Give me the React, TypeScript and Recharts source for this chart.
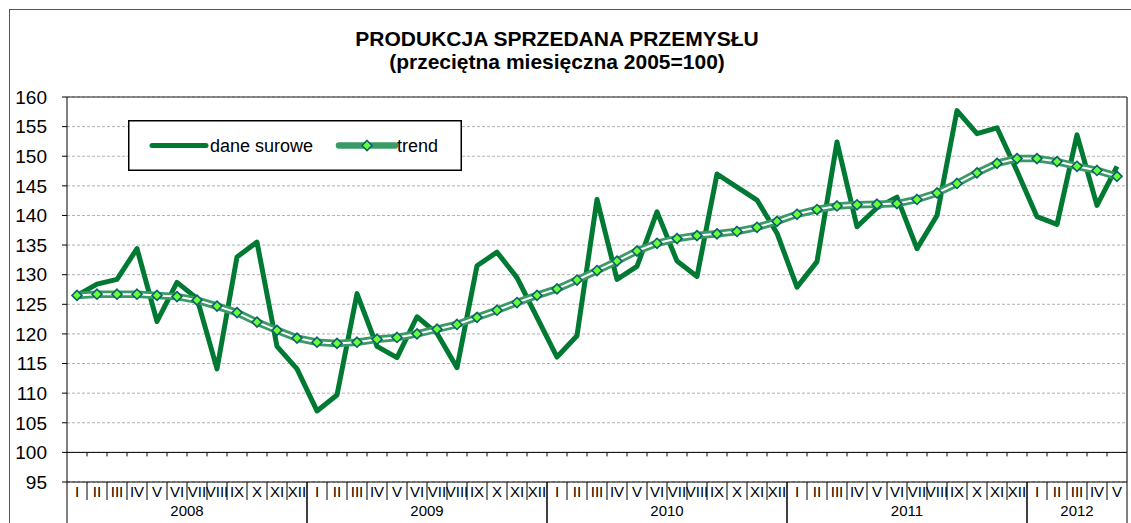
import React from 'react';
import {
  LineChart,
  Line,
  XAxis,
  YAxis,
  CartesianGrid,
  ReferenceLine,
  Legend,
} from 'recharts';

const monthLabels = ['I', 'II', 'III', 'IV', 'V', 'VI', 'VII', 'VIII', 'IX', 'X', 'XI', 'XII'];
const yearList = [2008, 2009, 2010, 2011, 2012];
const monthsPerYear = [12, 12, 12, 12, 5];

const rawValues = [
  126.5, 128.4, 129.2, 134.4, 122.1, 128.7, 126.0, 114.1, 133.0, 135.5, 117.9, 114.1,
  107.0, 109.7, 126.8, 117.9, 116.0, 122.9, 120.1, 114.3, 131.5, 133.8, 129.5, 122.8,
  116.1, 119.7, 142.7, 129.2, 131.4, 140.6, 132.3, 129.7, 147.0, 144.8, 142.6, 137.0,
  127.9, 132.2, 152.4, 138.1, 141.3, 143.1, 134.4, 140.0, 157.7, 153.8, 154.8, 147.5,
  139.8, 138.5, 153.6, 141.7, 148.3,
];

const trendValues = [
  126.5, 126.7, 126.7, 126.7, 126.5, 126.3, 125.7, 124.7, 123.6, 122.0, 120.6, 119.3,
  118.6, 118.4, 118.6, 119.1, 119.4, 120.0, 120.8, 121.6, 122.8, 124.0, 125.3, 126.5,
  127.6, 129.1, 130.7, 132.3, 134.0, 135.3, 136.1, 136.6, 136.9, 137.3, 138.0, 139.0,
  140.2, 141.0, 141.6, 141.8, 141.9, 142.0, 142.7, 143.8, 145.4, 147.2, 148.8, 149.6,
  149.6, 149.1, 148.3, 147.6, 146.6,
];

const yTicks = [95, 100, 105, 110, 115, 120, 125, 130, 135, 140, 145, 150, 155, 160];

const data: { key: string; month: string; year: number; raw: number; trend: number }[] = [];
{
  let idx = 0;
  yearList.forEach((yr, yi) => {
    for (let m = 0; m < monthsPerYear[yi]; m++) {
      data.push({
        key: `${yr}-${m}`,
        month: monthLabels[m],
        year: yr,
        raw: rawValues[idx],
        trend: trendValues[idx],
      });
      idx++;
    }
  });
}

const W = 1131;
const H = 523;
const MARGIN = { top: 97, right: 4, left: 0, bottom: 0 };
const YAXIS_W = 67;
const XAXIS_H = 41;
const PLOT_W = W - MARGIN.left - MARGIN.right - YAXIS_W;
const BW = PLOT_W / data.length;

const RAW_COLOR = '#007a33';
const TREND_COLOR = '#3a9a66';
const DIAMOND_FILL = '#66ff33';
const DIAMOND_STROKE = '#0e5f6e';
const FONT = '"Liberation Sans", Arial, sans-serif';

const MonthTick = (props: any) => {
  const { x, y, payload } = props;
  const i = payload.index;
  const row = data[i];
  if (!row) return null;
  const half = BW / 2;
  const isYearStart = i === 0 || data[i - 1].year !== row.year;
  const isYearEnd = i === data.length - 1 || data[i + 1].year !== row.year;
  const count = data.filter((d) => d.year === row.year).length;
  return (
    <g>
      <text x={x} y={y + 15} textAnchor="middle" fontSize={15} fontFamily={FONT} fill="#000">
        {row.month}
      </text>
      <line
        x1={x + half}
        x2={x + half}
        y1={y}
        y2={isYearEnd ? y + XAXIS_H : y + 18}
        stroke="#000"
        strokeWidth={1}
      />
      {isYearStart && (
        <g>
          <line x1={x - half} x2={x - half} y1={y} y2={y + XAXIS_H} stroke="#000" strokeWidth={1} />
          <text
            x={x - half + (count * BW) / 2}
            y={y + 34}
            textAnchor="middle"
            fontSize={15}
            fontFamily={FONT}
            fill="#000"
          >
            {row.year}
          </text>
        </g>
      )}
    </g>
  );
};

const Diamond = (props: any) => {
  const { cx, cy, index } = props;
  if (cx == null || cy == null) return null;
  const r = 5;
  return (
    <polygon
      key={`d-${index}`}
      points={`${cx},${cy - r} ${cx + r},${cy} ${cx},${cy + r} ${cx - r},${cy}`}
      fill={DIAMOND_FILL}
      stroke={DIAMOND_STROKE}
      strokeWidth={1.6}
    />
  );
};

const HundredLine = (props: any) => {
  const { x1, x2, y1 } = props;
  if (x1 == null) return null;
  const n = data.length;
  const span = x2 - x1;
  const pad = Math.abs(span - PLOT_W) < 2 ? 0 : BW / 2;
  const start = x1 - pad;
  const end = x2 + pad;
  const ticks = [];
  for (let k = 1; k < n; k++) {
    ticks.push(
      <line key={k} x1={start + k * BW} x2={start + k * BW} y1={y1} y2={y1 + 4} stroke="#000" strokeWidth={1} />
    );
  }
  return (
    <g>
      <line x1={start} x2={end} y1={y1} y2={y1} stroke="#000" strokeWidth={1} />
      {ticks}
    </g>
  );
};

const LegendBox = () => (
  <svg width={334} height={51} style={{ display: 'block' }}>
    <rect x={0.75} y={0.75} width={332.5} height={49.5} fill="#fff" stroke="#000" strokeWidth={1.5} />
    <line x1={24} x2={78} y1={25.5} y2={25.5} stroke={RAW_COLOR} strokeWidth={5} strokeLinecap="round" />
    <text x={82} y={32} fontSize={18} fontFamily={FONT} fill="#000">
      dane surowe
    </text>
    <line x1={211} x2={267} y1={25.5} y2={25.5} stroke={TREND_COLOR} strokeWidth={6.5} strokeLinecap="round" />
    <Diamond cx={239} cy={25.5} index={0} />
    <text x={269} y={32} fontSize={18} fontFamily={FONT} fill="#000">
      trend
    </text>
  </svg>
);

export default function App() {
  return (
    <div
      style={{
        position: 'absolute',
        left: 0,
        top: 0,
        width: W,
        height: H,
        overflow: 'hidden',
        background: '#fff',
        fontFamily: FONT,
      }}
    >
      <div
        style={{
          position: 'absolute',
          left: 9,
          top: 9,
          width: W + 50,
          height: H + 50,
          border: '1px solid #555',
          boxSizing: 'border-box',
        }}
      />
      <svg width={W} height={90} style={{ position: 'absolute', left: 0, top: 0 }}>
        <text x={557} y={46} textAnchor="middle" fontSize={21} fontWeight="bold" fontFamily={FONT} fill="#000">
          PRODUKCJA SPRZEDANA PRZEMYSŁU
        </text>
        <text x={557} y={69} textAnchor="middle" fontSize={21} fontWeight="bold" fontFamily={FONT} fill="#000">
          (przeciętna miesięczna 2005=100)
        </text>
      </svg>
      <div style={{ position: 'absolute', left: 0, top: 0 }}>
        <LineChart width={W} height={H} data={data} margin={MARGIN}>
          <CartesianGrid vertical={false} stroke="#b0b0b0" strokeDasharray="3 2" />
          <CartesianGrid
            stroke="#222"
            strokeWidth={1.2}
            horizontalCoordinatesGenerator={(p: any) => [p.offset.top]}
            verticalCoordinatesGenerator={(p: any) => [p.offset.left + p.offset.width]}
          />
          <XAxis
            dataKey="key"
            interval={0}
            tickSize={0}
            tickMargin={0}
            tickLine={false}
            height={XAXIS_H}
            padding={{ left: BW / 2, right: BW / 2 }}
            axisLine={{ stroke: '#000' }}
            tick={<MonthTick />}
          />
          <YAxis
            domain={[95, 160]}
            ticks={yTicks}
            interval={0}
            width={YAXIS_W}
            tickSize={5}
            tickMargin={15}
            axisLine={{ stroke: '#000' }}
            tickLine={{ stroke: '#000' }}
            tick={{ fontSize: 19, fill: '#000', fontFamily: FONT }}
          />
          <ReferenceLine y={100} shape={<HundredLine />} />
          <Legend
            layout="vertical"
            verticalAlign="middle"
            align="center"
            content={() => <LegendBox />}
            wrapperStyle={{ left: 128, top: 120, width: 334, height: 51 }}
          />
          <Line
            name="dane surowe"
            dataKey="raw"
            stroke={RAW_COLOR}
            strokeWidth={5}
            dot={false}
            activeDot={false}
            strokeLinejoin="round"
            isAnimationActive={false}
          />
          <Line
            name="trend"
            dataKey="trend"
            stroke={TREND_COLOR}
            strokeWidth={7.5}
            dot={false}
            activeDot={false}
            isAnimationActive={false}
          />
          <Line
            name="trend-inner"
            dataKey="trend"
            stroke="#ffffff"
            strokeWidth={2}
            dot={<Diamond />}
            activeDot={false}
            legendType="none"
            isAnimationActive={false}
          />
        </LineChart>
      </div>
    </div>
  );
}
